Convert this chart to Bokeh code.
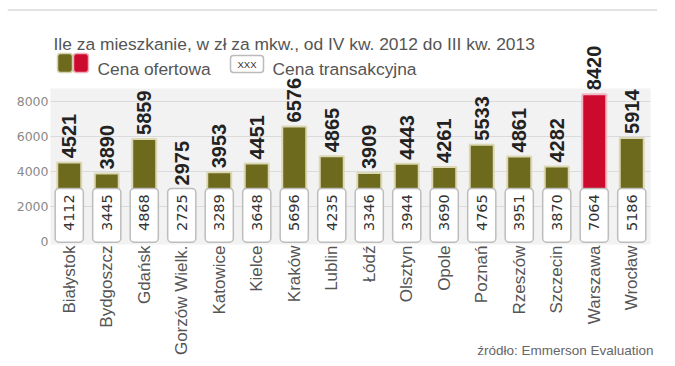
import numpy as np
from bokeh.plotting import figure
from bokeh.models import Range1d, Label, Span, ColumnDataSource
from bokeh.core.properties import value
from bokeh.transform import dodge
from bokeh.embed import file_html
from bokeh.resources import INLINE

# ---- data ----
cities = ["Białystok", "Bydgoszcz", "Gdańsk", "Gorzów Wielk.", "Katowice", "Kielce",
          "Kraków", "Lublin", "Łódź", "Olsztyn", "Opole", "Poznań", "Rzeszów",
          "Szczecin", "Warszawa", "Wrocław"]
offer_price = [4521, 3890, 5859, 2975, 3953, 4451, 6576, 4865, 3909, 4443, 4261,
               5533, 4861, 4282, 8420, 5914]
transaction_price = [4112, 3445, 4868, 2725, 3289, 3648, 5696, 4235, 3346, 3944,
                     3690, 4765, 3951, 3870, 7064, 5186]
y_ticks = [0, 2000, 4000, 6000, 8000]
highlight = "Warszawa"

title_text = "Ile za mieszkanie, w zł za mkw., od IV kw. 2012 do III kw. 2013"
legend_offer = "Cena ofertowa"
legend_trans = "Cena transakcyjna"
source_text = "źródło: Emmerson Evaluation"

# ---- styling / layout helpers (canvas pixel -> data) ----
OLIVE = "#6d6a1d"
RED = "#cb0a2e"
CAT0 = 68.75      # x of first category centre
CAT_W = 37.5      # px per category
Y0 = 241.0        # y of value 0
PPU = 0.0175      # px per unit


def dx(px):
    return (px - CAT0) / CAT_W


def dy(py):
    return (Y0 - py) / PPU


n = len(cities)
idx = list(range(n))

src = ColumnDataSource(dict(
    x=idx,
    city=cities,
    offer=offer_price,
    trans=transaction_price,
    color=[RED if c == highlight else OLIVE for c in cities],
    edge=["#f1b9c3" if c == highlight else "#dcd8b4" for c in cities],
    offer_label=[str(v) for v in offer_price],
    trans_label=[str(v) for v in transaction_price],
))

W, H = 667, 358
FL, FR, FT, FB = 7, 657, 0, 358
p = figure(width=W, height=H, output_backend="svg", toolbar_location=None,
           x_range=Range1d(dx(FL), dx(FR)), y_range=Range1d(dy(FB), dy(FT)),
           x_axis_location=None, y_axis_location=None,
           min_border_left=FL, min_border_right=W - FR,
           min_border_top=0, min_border_bottom=0)
p.outline_line_color = None
p.background_fill_color = "white"
p.border_fill_color = "white"
p.xgrid.grid_line_color = None
p.ygrid.grid_line_color = None

# panel + grid
p.quad(left=-0.5, right=n - 0.5, bottom=dy(244), top=dy(88),
       fill_color="#f2f2f2", line_color=None)
p.segment(x0=-0.5, x1=n - 0.5, y0=y_ticks[1:], y1=y_ticks[1:],
          line_color="#dadada", line_width=1)

# bars
p.vbar(x="x", top="offer", bottom=0, width=0.64, fill_color="color",
       line_color="edge", line_width=2, source=src)
# transaction boxes
p.vbar(x="x", top=3030, bottom=-40, width=0.75, fill_color="white",
       line_color="#bdbdbd", line_width=1.5, border_radius=4, source=src)

# value labels
p.text(x="x", y=dodge("offer", 230), text="offer_label", source=src,
       angle=np.pi / 2, text_align="left", text_baseline="middle",
       text_font=value("Liberation Sans"), text_font_style="bold",
       text_font_size="20px", text_color="#222222")
p.text(x="x", y=1650, text="trans_label", source=src,
       angle=np.pi / 2, text_align="center", text_baseline="middle",
       text_font=value("DejaVu Sans"), text_font_size="14.5px", text_color="#333333")

# y tick labels
p.text(x=dx(48), y=y_ticks, text=[str(t) for t in y_ticks],
       text_align="right", text_baseline="middle",
       text_font=value("DejaVu Sans"), text_font_size="12.5px", text_color="#8a8a8a")

# city labels
p.text(x="x", y=dy(245), text="city", source=src,
       angle=np.pi / 2, text_align="right", text_baseline="middle",
       text_font=value("Liberation Sans"), text_font_size="17px", text_color="#555555")

# top rule
p.add_layout(Span(location=dy(9.5), dimension="width", line_color="#c8c8c8", line_width=1))

# title
p.add_layout(Label(x=dx(53), y=dy(43), text=title_text, text_font="Liberation Sans",
                   text_font_size="17.4px", text_color="#555555", text_baseline="alphabetic"))

# legend
p.quad(left=[dx(57), dx(73)], right=[dx(72), dx(88)], top=dy(53), bottom=dy(72),
       fill_color=[OLIVE, RED], line_color=["#d5d2b0", "#f0b0bb"], line_width=1.5,
       border_radius=3)
p.add_layout(Label(x=dx(97), y=dy(68), text=legend_offer, text_font="Liberation Sans",
                   text_font_size="17.4px", text_color="#555555", text_baseline="alphabetic"))
p.quad(left=dx(230), right=dx(263), top=dy(55), bottom=dy(72), fill_color="white",
       line_color="#bbbbbb", line_width=1.5, border_radius=3)
p.add_layout(Label(x=dx(246.5), y=dy(63.5), text="XXX", text_font="Liberation Sans",
                   text_font_size="9.5px", text_color="#333333", text_align="center",
                   text_baseline="middle"))
p.add_layout(Label(x=dx(272), y=dy(68), text=legend_trans, text_font="Liberation Sans",
                   text_font_size="17.4px", text_color="#555555", text_baseline="alphabetic"))

# source note
p.add_layout(Label(x=dx(653), y=dy(350), text=source_text, text_font="Liberation Sans",
                   text_font_size="13.5px", text_color="#666666", text_align="right",
                   text_baseline="alphabetic"))

open("out.html", "w").write(file_html(p, INLINE))
